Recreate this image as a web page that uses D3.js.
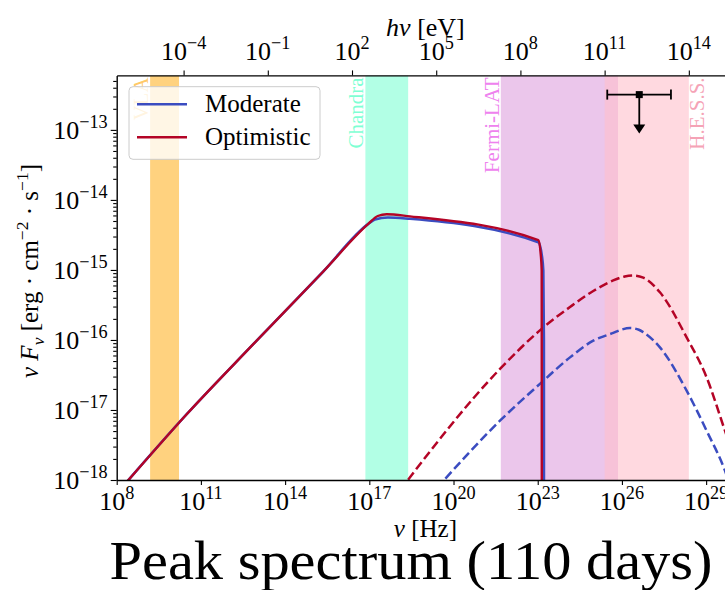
<!DOCTYPE html>
<html><head><meta charset="utf-8">
<script src="https://cdn.jsdelivr.net/npm/d3@7"></script>
<style>body{margin:0;background:#fff} svg{display:block}</style>
</head><body>
<svg id="c" width="725" height="590"></svg>
<script>
// ---------------- data ----------------
const bandNames  = ["VLA", "Chandra", "Fermi-LAT", "H.E.S.S."];
const bandLowHz  = [1.55e9, 7.25e16, 4.84e21, 2.42e25];
const bandHighHz = [1.66e10, 2.42e18, 7.25e25, 2.42e28];

const seriesNames = ["Moderate", "Optimistic"];

// synchrotron (solid)
const syncModerateNu = [2.24e8, 3.12e10, 7.35e12, 2.29e15, 9.19e16, 1.58e17, 4.62e17, 2.81e18, 1.05e23, 1.41e23, 1.58e23, 1.66e23, 1.67e23];
const syncModerateF  = [9.3e-19, 8.7e-18, 8.7e-17, 9.5e-16, 4.54e-15, 5.25e-15, 5.62e-15, 5.37e-15, 2.48e-15, 1.58e-15, 9.77e-16, 1.0e-16, 1.0e-19];
const syncOptimisticNu = [2.24e8, 3.12e10, 7.35e12, 2.29e15, 9.19e16, 2.0e17, 4.16e17, 2.81e18, 1.05e23, 1.26e23, 1.384e23, 1.39e23, 1.40e23];
const syncOptimisticF  = [9.3e-19, 8.7e-18, 8.7e-17, 9.5e-16, 4.54e-15, 5.89e-15, 6.24e-15, 5.83e-15, 2.66e-15, 1.78e-15, 9.77e-16, 1.0e-16, 1.0e-19];

// SSC (dashed)
const sscModerateNu = [2.51e19, 4.52e21, 1.38e23, 1.41e24, 9.53e24, 4.9e25, 1.0e26, 1.93e26, 4.0e26, 5.75e26, 2.26e27, 2.02e28, 1.04e29, 4.68e29, 1.0e30];
const sscModerateF  = [7.6e-19, 7.03e-18, 2.48e-17, 5.64e-17, 9.77e-17, 1.26e-16, 1.41e-16, 1.48e-16, 1.40e-16, 1.29e-16, 7.83e-17, 1.89e-17, 5.06e-18, 1.36e-18, 5.6e-19];
const sscOptimisticNu = [1.26e18, 4.52e21, 1.38e23, 1.41e24, 9.53e24, 4.9e25, 1.26e26, 2.54e26, 5.75e26, 2.26e27, 2.02e28, 1.04e29, 4.68e29, 1.0e30];
const sscOptimisticF  = [7.2e-19, 3.85e-17, 1.44e-16, 2.95e-16, 5.0e-16, 7.08e-16, 8.04e-16, 8.3e-16, 7.76e-16, 4.79e-16, 1.09e-16, 2.92e-17, 5.06e-18, 2.1e-18];

// H.E.S.S. upper limit
const ulNu = [4.15e26], ulF = [3.19e-13], ulNuLow = [3.0e25], ulNuHigh = [5.58e27];

// ticks
const xTickExp   = [8, 11, 14, 17, 20, 23, 26, 29];
const topTickExp = [-4, -1, 2, 5, 8, 11, 14];
const yTickExp   = [-18, -17, -16, -15, -14, -13];

const hPlanck = 4.135667e-15; // eV s

// ---------------- style ----------------
const FONT = "'Liberation Serif','DejaVu Serif',serif";
const FS = 26;
const L = 116.7, R = 734.2, T = 75.4, B = 480;
const blue = "#3b4cc0", red = "#b40426";
const bandFill = ["orange", "aquamarine", "plum", "pink"];
const bandOp = [0.5, 0.6, 0.6, 0.6];
const bandTextCol = ["orange", "aquamarine", "violet", "#f5a3b6"];
const bandTextOp = [0.6, 1, 1, 1];

const svg = d3.select("#c").style("font-family", FONT);
const x = d3.scaleLog().domain([1e8, 1e30]).range([L, R]);
const y = d3.scaleLog().domain([1e-18, 6.0e-13]).range([B, T]);
const xt = d3.scaleLog().domain([1e8 * hPlanck, 1e30 * hPlanck]).range([L, R]);

svg.append("defs").append("clipPath").attr("id", "clip")
  .append("rect").attr("x", L).attr("y", T).attr("width", R - L).attr("height", B - T);

// bands
const gb = svg.append("g").attr("clip-path", "url(#clip)");
bandNames.forEach((n, i) => {
  gb.append("rect").attr("x", x(bandLowHz[i])).attr("y", T)
    .attr("width", x(bandHighHz[i]) - x(bandLowHz[i])).attr("height", B - T)
    .attr("fill", bandFill[i]).attr("fill-opacity", bandOp[i]);
});

// band labels
bandNames.forEach((n, i) => {
  const bx = i === 3 ? x(bandHighHz[i]) + 8 : x(bandLowHz[i]) - 9;
  svg.append("text").attr("transform", `translate(${bx},${T + 2}) rotate(-90)`)
    .attr("text-anchor", "end").attr("dominant-baseline", "central")
    .attr("font-size", 21).attr("fill", bandTextCol[i]).attr("fill-opacity", bandTextOp[i])
    .text(n);
});

// curves
const line = d3.line().x(d => x(d[0])).y(d => y(d[1])).curve(d3.curveMonotoneX);
const gc = svg.append("g").attr("clip-path", "url(#clip)");
const zip = (a, b) => a.map((v, i) => [v, b[i]]);
const DASH = "9,4";
gc.append("path").attr("d", line(zip(sscModerateNu, sscModerateF))).attr("fill", "none")
  .attr("stroke", blue).attr("stroke-width", 2.5).attr("stroke-dasharray", DASH);
gc.append("path").attr("d", line(zip(sscOptimisticNu, sscOptimisticF))).attr("fill", "none")
  .attr("stroke", red).attr("stroke-width", 2.5).attr("stroke-dasharray", DASH);
gc.append("path").attr("d", line(zip(syncModerateNu, syncModerateF))).attr("fill", "none")
  .attr("stroke", blue).attr("stroke-width", 2.6);
gc.append("path").attr("d", line(zip(syncOptimisticNu, syncOptimisticF))).attr("fill", "none")
  .attr("stroke", red).attr("stroke-width", 2.4);

// upper limit
ulNu.forEach((nu, i) => {
  const cx = x(nu), cy = y(ulF[i]);
  const g = svg.append("g").attr("stroke", "#000").attr("stroke-width", 1.8);
  g.append("line").attr("x1", x(ulNuLow[i])).attr("x2", x(ulNuHigh[i])).attr("y1", cy).attr("y2", cy);
  g.append("line").attr("x1", x(ulNuLow[i])).attr("x2", x(ulNuLow[i])).attr("y1", cy - 5).attr("y2", cy + 5);
  g.append("line").attr("x1", x(ulNuHigh[i])).attr("x2", x(ulNuHigh[i])).attr("y1", cy - 5).attr("y2", cy + 5);
  g.append("line").attr("x1", cx).attr("x2", cx).attr("y1", cy).attr("y2", cy + 31);
  svg.append("path").attr("d", `M${cx - 6},${cy + 30} L${cx + 6},${cy + 30} L${cx},${cy + 39} Z`).attr("fill", "#000");
  svg.append("rect").attr("x", cx - 3.5).attr("y", cy - 3.5).attr("width", 7).attr("height", 7).attr("fill", "#000");
});

// axes
function sup(t, base, exp, f) {
  t.append("tspan").text(base);
  t.append("tspan").attr("dy", -0.42 * f).attr("font-size", 0.7 * f).text(exp < 0 ? "\u2212" + (-exp) : String(exp));
}
const ax = svg.append("g").attr("transform", `translate(0,${B})`)
  .call(d3.axisBottom(x).tickValues(xTickExp.map(e => Math.pow(10, e))).tickSize(5).tickSizeOuter(0).tickFormat(""));
const axTop = svg.append("g").attr("transform", `translate(0,${T})`)
  .call(d3.axisTop(xt).tickValues(topTickExp.map(e => Math.pow(10, e))).tickSize(5).tickSizeOuter(0).tickFormat(""));
const yMinor = [];
for (let e = -18; e <= -13; e++) for (let m = 2; m < 10; m++) { const v = m * Math.pow(10, e); if (v <= 6.0e-13) yMinor.push(v); }
const ayMinor = svg.append("g").attr("transform", `translate(${L},0)`)
  .call(d3.axisLeft(y).tickValues(yMinor).tickSize(3.5).tickSizeOuter(0).tickFormat(""));
const ay = svg.append("g").attr("transform", `translate(${L},0)`)
  .call(d3.axisLeft(y).tickValues(yTickExp.map(e => Math.pow(10, e))).tickSize(6).tickSizeOuter(0).tickFormat(""));
[ax, axTop, ay, ayMinor].forEach(g => {
  g.selectAll("path.domain").attr("stroke", "#000").attr("stroke-width", 1.4);
  g.selectAll(".tick line").attr("stroke", "#000").attr("stroke-width", 1.1);
});
ayMinor.select("path.domain").remove();

xTickExp.forEach(e => {
  const t = svg.append("text").attr("x", x(Math.pow(10, e))).attr("y", B + 30).attr("text-anchor", "middle").attr("font-size", FS);
  sup(t, "10", e, FS);
});
topTickExp.forEach(e => {
  const t = svg.append("text").attr("x", xt(Math.pow(10, e))).attr("y", T - 15).attr("text-anchor", "middle").attr("font-size", FS);
  sup(t, "10", e, FS);
});
yTickExp.forEach(e => {
  const t = svg.append("text").attr("x", L - 9).attr("y", y(Math.pow(10, e)) + 9).attr("text-anchor", "end").attr("font-size", FS);
  sup(t, "10", e, FS);
});

// axis labels
const cx = (L + R) / 2;
const xl = svg.append("text").attr("x", cx).attr("y", 537).attr("text-anchor", "middle").attr("font-size", 25);
xl.append("tspan").attr("font-style", "italic").text("\u03bd");
xl.append("tspan").text(" [Hz]");
const tl = svg.append("text").attr("x", cx).attr("y", 36).attr("text-anchor", "middle").attr("font-size", 26);
tl.append("tspan").attr("font-style", "italic").text("h\u03bd");
tl.append("tspan").text(" [eV]");
const f = 25;
const yl = svg.append("text").attr("transform", `translate(38,271) rotate(-90)`)
  .attr("text-anchor", "middle").attr("font-size", f);
yl.append("tspan").attr("font-style", "italic").text("\u03bd F");
yl.append("tspan").attr("font-style", "italic").attr("font-size", 0.7 * f).attr("dy", 0.22 * f).text("\u03bd");
yl.append("tspan").attr("dy", -0.22 * f).text(" [erg \u00b7 cm");
yl.append("tspan").attr("font-size", 0.7 * f).attr("dy", -0.42 * f).text("\u22122");
yl.append("tspan").attr("dy", 0.42 * f).text(" \u00b7 s");
yl.append("tspan").attr("font-size", 0.7 * f).attr("dy", -0.42 * f).text("\u22121");
yl.append("tspan").attr("dy", 0.42 * f).text("]");

// legend
const lg = svg.append("g");
lg.append("rect").attr("x", 129).attr("y", 86.7).attr("width", 191).attr("height", 72.6).attr("rx", 4)
  .attr("fill", "#fff").attr("fill-opacity", 0.8).attr("stroke", "#cccccc").attr("stroke-width", 1);
[blue, red].forEach((c, i) => {
  const ly = 104.3 + i * 33;
  lg.append("line").attr("x1", 137).attr("x2", 187).attr("y1", ly).attr("y2", ly).attr("stroke", c).attr("stroke-width", 2.4);
  lg.append("text").attr("x", 205).attr("y", ly + 8).attr("font-size", 25).text(seriesNames[i]);
});

// title
svg.append("text").attr("x", 411).attr("y", 579).attr("text-anchor", "middle").attr("font-size", 55)
  .attr("textLength", 603).attr("lengthAdjust", "spacingAndGlyphs").text("Peak spectrum (110 days)");
</script>
</body></html>
